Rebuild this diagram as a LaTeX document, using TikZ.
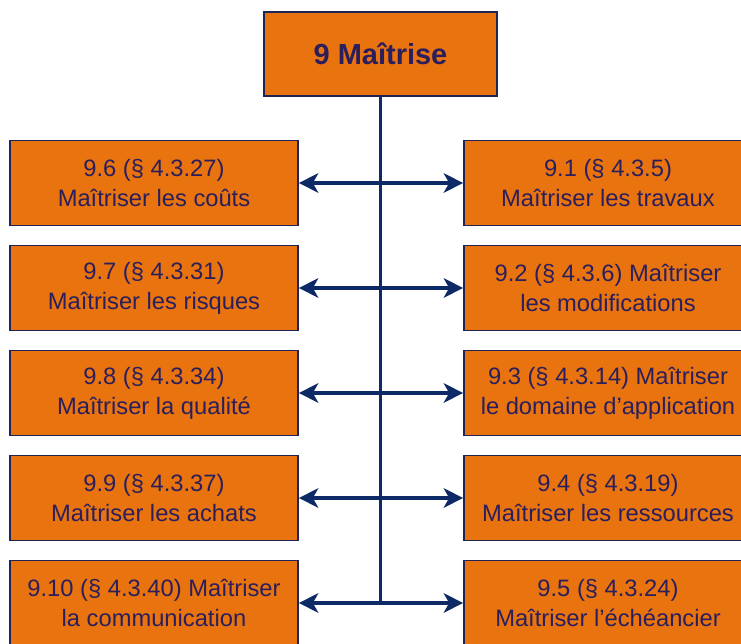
\documentclass[tikz,border=0pt]{standalone}
\usepackage{fontspec}
\setmainfont{Liberation Sans}
\usetikzlibrary{arrows.meta,positioning}
\definecolor{BoxOrange}{HTML}{E8730F}
\definecolor{BoxEdge}{HTML}{1F2456}
\definecolor{TextNavy}{HTML}{2A1F5C}
\definecolor{LinkNavy}{HTML}{0E2A66}
\tikzset{
  taskbox/.style={
    draw=BoxEdge,
    line width=1pt,
    fill=BoxOrange,
    text=TextNavy,
    minimum width=5.76cm,
    minimum height=1.7cm,
    inner sep=2pt,
    align=center,
    font=\fontsize{13.5}{17}\selectfont
  },
  headbox/.style={
    taskbox,
    minimum width=4.66cm,
    minimum height=1.68cm,
    font=\fontsize{16.5}{20}\selectfont\bfseries
  },
  link/.style={draw=LinkNavy, line width=2pt},
  twoway/.style={link, {Stealth[length=11pt,width=11pt,inset=3pt]}-{Stealth[length=11pt,width=11pt,inset=3pt]}}
}

\begin{document}
\begin{tikzpicture}[x=0.02cm,y=-0.02cm]
      \useasboundingbox (0,0) rectangle (741,644);
      % top box
      \node[headbox] (head) at (380.5,54) {9 Maîtrise};
      % left column
      \node[taskbox] (l1) at (154,183) {9.6 (§ 4.3.27)\\Maîtriser les coûts};
      \node[taskbox] (l2) at (154,288) {9.7 (§ 4.3.31)\\Maîtriser les risques};
      \node[taskbox] (l3) at (154,393) {9.8 (§ 4.3.34)\\Maîtriser la qualité};
      \node[taskbox] (l4) at (154,498) {9.9 (§ 4.3.37)\\Maîtriser les achats};
      \node[taskbox] (l5) at (154,603) {9.10 (§ 4.3.40) Maîtriser\\la communication};
      % right column
      \node[taskbox] (r1) at (608,183) {9.1 (§ 4.3.5)\\Maîtriser les travaux};
      \node[taskbox] (r2) at (608,288) {9.2 (§ 4.3.6) Maîtriser\\les modifications};
      \node[taskbox] (r3) at (608,393) {9.3 (§ 4.3.14) Maîtriser\\le domaine d’application};
      \node[taskbox] (r4) at (608,498) {9.4 (§ 4.3.19)\\Maîtriser les ressources};
      \node[taskbox] (r5) at (608,603) {9.5 (§ 4.3.24)\\Maîtriser l’échéancier};
      % spine and arrows
      \coordinate (spine) at (head.south |- l5.east);
      \draw[link] (head.south) -- (spine);
      \foreach \i in {1,...,5}
        \draw[twoway] (l\i) -- (r\i);
    \end{tikzpicture}
\end{document}
